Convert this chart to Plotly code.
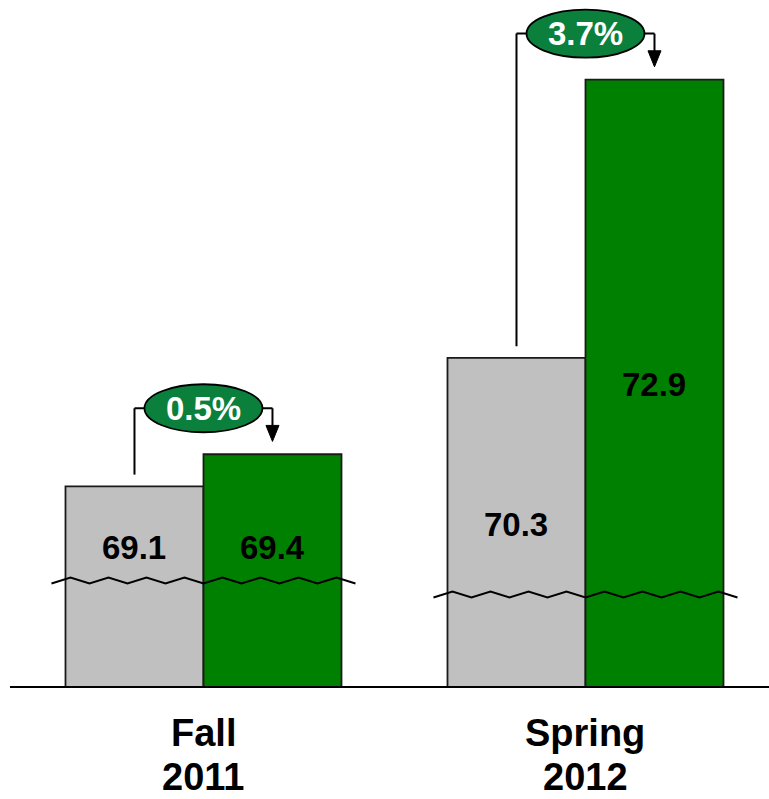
import numpy as np
import plotly.graph_objects as go

# Term data
categories = ["Fall 2011", "Spring 2012"]
term_lines = [["Fall", "2011"], ["Spring", "2012"]]
before = [69.1, 70.3]
after = [69.4, 72.9]
change_text = ["0.5%", "3.7%"]

# Vertical placement (in axis units) of the in-bar value labels and the axis-break marks
value_label_y_before = [68.53, 68.74]
value_label_y_after = [68.53, 70.05]
break_level = [68.22, 68.09]

GRAY = "#C0C0C0"
GREEN = "#008000"
BADGE = "#0B7F3C"
OUTLINE = "#1A1A1A"
FONT = "Liberation Sans, Arial, sans-serif"

BARGAP = 0.2775
half = (1 - BARGAP) / 4  # distance from a group centre to each bar centre

fig = go.Figure()
fig.add_trace(go.Bar(
    x=categories, y=before, name="before",
    marker=dict(color=GRAY, line=dict(color=OUTLINE, width=1.8)),
    hoverinfo="skip",
))
fig.add_trace(go.Bar(
    x=categories, y=after, name="after",
    marker=dict(color=GREEN, line=dict(color=OUTLINE, width=1.8)),
    hoverinfo="skip",
))

shapes = []
annotations = []

for i in range(len(categories)):
    g = i - half
    a = i + half
    level = after[i] + 0.43
    tip = after[i] + 0.12
    stem = before[i] + 0.11

    # bracket: up from the first bar, across, and down towards the second bar
    line = dict(color="black", width=2)
    shapes.append(dict(type="line", xref="x", yref="y", x0=g, x1=g, y0=stem, y1=level, line=line, layer="above"))
    shapes.append(dict(type="line", xref="x", yref="y", x0=g, x1=a, y0=level, y1=level, line=line, layer="above"))
    shapes.append(dict(type="line", xref="x", yref="y", x0=a, x1=a, y0=level, y1=tip + 0.08, line=line, layer="above"))
    # arrowhead
    shapes.append(dict(
        type="path", xref="x", yref="y", xsizemode="pixel", ysizemode="pixel",
        xanchor=a, yanchor=tip, path="M -6.5,16 L 6.5,16 L 0,0 Z",
        fillcolor="black", line=dict(color="black", width=1), layer="above",
    ))
    # change badge
    shapes.append(dict(
        type="circle", xref="x", yref="y", xsizemode="pixel", ysizemode="pixel",
        xanchor=i, yanchor=level, x0=-59, x1=59, y0=-24, y1=24,
        fillcolor=BADGE, line=dict(color="black", width=1.8), layer="above",
    ))
    annotations.append(dict(
        x=i, y=level, xref="x", yref="y", text=change_text[i], showarrow=False,
        font=dict(family=FONT, size=33, color="white", weight="bold"),
        xanchor="center", yanchor="middle",
    ))

    # axis-break zigzag across both bars
    steps = np.arange(-8, 9)
    xs = steps * 19
    ys = np.where(steps % 2 == 0, -3, 3)
    zig = "M " + " L ".join(f"{x},{y}" for x, y in zip(xs, ys))
    shapes.append(dict(
        type="path", xref="x", yref="y", xsizemode="pixel", ysizemode="pixel",
        xanchor=i, yanchor=break_level[i], path=zig,
        line=dict(color="black", width=2), layer="above",
    ))

    # values inside the bars
    annotations.append(dict(
        x=g, y=value_label_y_before[i], xref="x", yref="y", text=f"{before[i]:.1f}",
        showarrow=False, font=dict(family=FONT, size=33, color="black", weight="bold"),
    ))
    annotations.append(dict(
        x=a, y=value_label_y_after[i], xref="x", yref="y", text=f"{after[i]:.1f}",
        showarrow=False, font=dict(family=FONT, size=33, color="black", weight="bold"),
    ))

    # two-line term labels under the axis
    for k, shift in enumerate([-47, -91]):
        annotations.append(dict(
            x=i, y=0, xref="x", yref="paper", yshift=shift, text=term_lines[i][k],
            showarrow=False, xanchor="center", yanchor="middle",
            font=dict(family=FONT, size=38, color="black", weight="bold"),
        ))

fig.update_layout(
    width=769, height=799,
    margin=dict(l=10, r=0, t=0, b=113),
    paper_bgcolor="white", plot_bgcolor="white",
    barmode="group", bargap=BARGAP, bargroupgap=0,
    showlegend=False,
    shapes=shapes, annotations=annotations,
    xaxis=dict(
        range=[-0.5065, 1.4804], showline=True, linecolor="black", linewidth=2,
        showticklabels=False, ticks="", showgrid=False, zeroline=False,
    ),
    yaxis=dict(range=[67.235, 73.644], visible=False),
)

fig.write_html("out.html")
